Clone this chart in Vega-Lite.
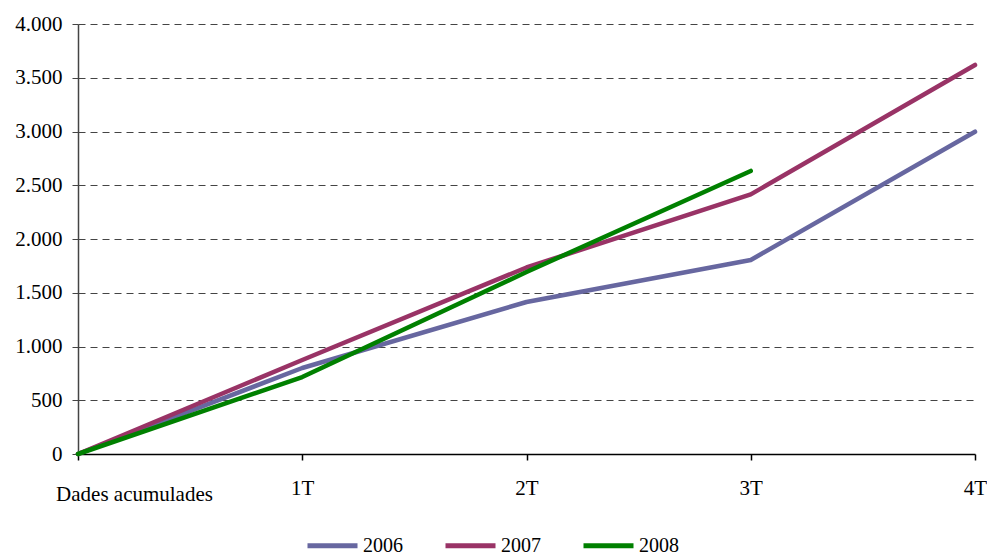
{
  "$schema": "https://vega.github.io/schema/vega-lite/v6.json",
  "width": 897,
  "height": 430,
  "autosize": {"type": "none"},
  "padding": {"left": 78, "top": 24, "right": 12, "bottom": 101},
  "background": "white",
  "config": {
    "font": "'Liberation Serif', 'Times New Roman', Times, serif",
    "view": {"stroke": null}
  },
  "data": {
    "values": [
      {"periode": "Dades acumulades", "any": "2006", "valor": 0},
      {"periode": "1T", "any": "2006", "valor": 800},
      {"periode": "2T", "any": "2006", "valor": 1414},
      {"periode": "3T", "any": "2006", "valor": 1805},
      {"periode": "4T", "any": "2006", "valor": 2998},
      {"periode": "Dades acumulades", "any": "2007", "valor": 0},
      {"periode": "1T", "any": "2007", "valor": 874},
      {"periode": "2T", "any": "2007", "valor": 1735},
      {"periode": "3T", "any": "2007", "valor": 2415},
      {"periode": "4T", "any": "2007", "valor": 3619},
      {"periode": "Dades acumulades", "any": "2008", "valor": 0},
      {"periode": "1T", "any": "2008", "valor": 716},
      {"periode": "2T", "any": "2008", "valor": 1693},
      {"periode": "3T", "any": "2008", "valor": 2633}
    ]
  },
  "mark": {"type": "line", "strokeWidth": 4.5, "strokeCap": "round", "strokeJoin": "round"},
  "encoding": {
    "x": {
      "field": "periode",
      "type": "ordinal",
      "sort": ["Dades acumulades", "1T", "2T", "3T", "4T"],
      "scale": {"type": "point", "padding": 0},
      "axis": {
        "title": null,
        "labelAngle": 0,
        "labelFontSize": 21,
        "labelColor": "black",
        "labelFont": "'Liberation Serif', 'Times New Roman', Times, serif",
        "labelAlign": "center",
        "labelBaseline": "top",
        "labelOffset": {"condition": {"test": "datum.value === 'Dades acumulades'", "value": 56}, "value": 0},
        "labelPadding": {"condition": {"test": "datum.value === 'Dades acumulades'", "value": 23}, "value": 17},
        "domainColor": "black",
        "domainWidth": 1.5,
        "tickColor": "black",
        "tickSize": 6,
        "tickWidth": 1.5,
        "grid": false,
        "labelOverlap": false
      }
    },
    "y": {
      "field": "valor",
      "type": "quantitative",
      "scale": {"domain": [0, 4000], "nice": false},
      "axis": {
        "title": null,
        "values": [0, 500, 1000, 1500, 2000, 2500, 3000, 3500, 4000],
        "format": ",d",
        "labelExpr": "replace(datum.label, ',', '.')",
        "labelFontSize": 21,
        "labelColor": "black",
        "labelFont": "'Liberation Serif', 'Times New Roman', Times, serif",
        "labelPadding": 10,
        "domainColor": "#444",
        "domainWidth": 1.5,
        "tickColor": "#444",
        "tickSize": 6,
        "tickWidth": 1,
        "grid": true,
        "gridColor": "#444",
        "gridDash": [7, 5],
        "gridWidth": 1
      }
    },
    "color": {
      "field": "any",
      "type": "nominal",
      "scale": {"domain": ["2006", "2007", "2008"], "range": ["#6767A0", "#993366", "#008000"]},
      "legend": {
        "title": null,
        "orient": "none",
        "direction": "horizontal",
        "legendX": 227,
        "legendY": 494,
        "symbolType": "stroke",
        "symbolStrokeWidth": 5,
        "symbolSize": 2500,
        "labelFontSize": 20,
        "labelColor": "black",
        "labelFont": "'Liberation Serif', 'Times New Roman', Times, serif",
        "labelOffset": 3,
        "columnPadding": 32
      }
    }
  }
}
